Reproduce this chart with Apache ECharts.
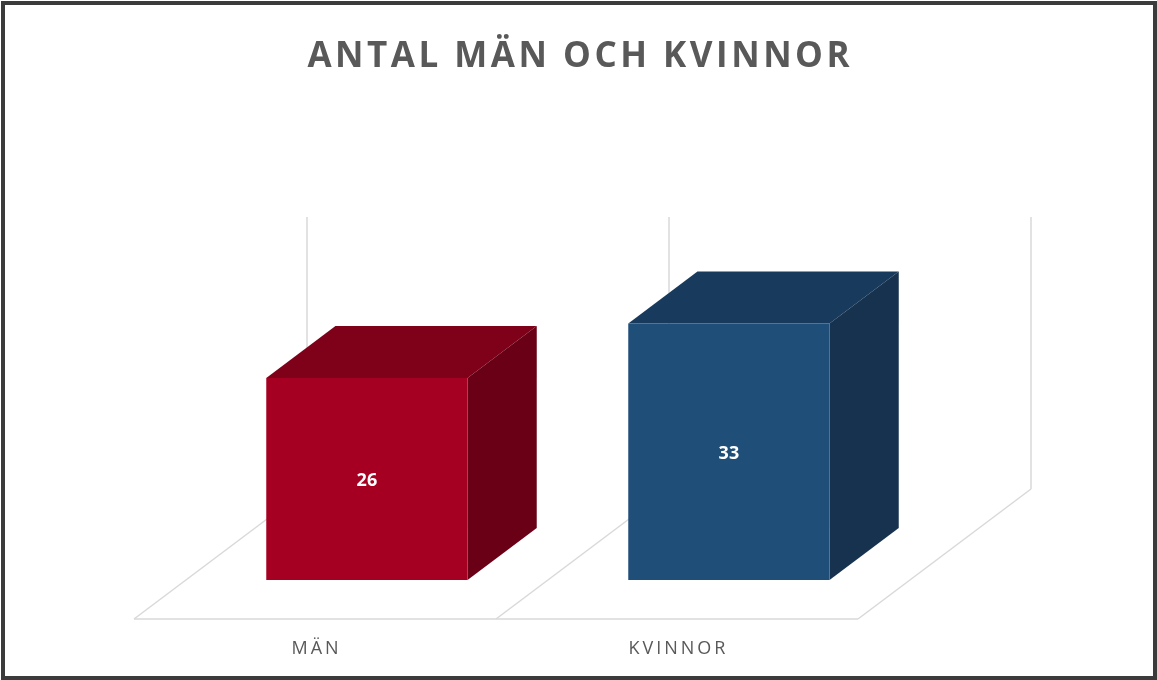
<!DOCTYPE html>
<html>
<head>
<meta charset="utf-8">
<script src="https://cdn.jsdelivr.net/npm/echarts@6/dist/echarts.min.js"></script>
<style>
  html, body { margin: 0; padding: 0; background: #fff; }
  #main { width: 1157px; height: 680px; }
</style>
</head>
<body>
<div id="main"></div>
<script>
// data
var categories = ['MÄN', 'KVINNOR'];
var values = [26, 33];
var yMax = 35;
var frontColors = ['#A50021', '#1F4E79'];
var topColors = ['#7F0019', '#183A5D'];
var sideColors = ['#6A0015', '#16324E'];

// oblique depth of the floor (full depth), bars sit between 0.3 and 0.7 of it
var DEPTH = [173, -130];
var BAR_FRONT = 0.3, BAR_BACK = 0.7;
var BAR_WIDTH = 0.556;
var gridColor = '#D9D9D9';

// spread letters a little (Excel-style character spacing)
function spaced(s, sp) {
    return s.split('').join(sp);
}

var chart = echarts.init(document.getElementById('main'));

var option = {
    backgroundColor: '#fff',
    animation: false,
    title: {
        text: spaced('ANTAL MÄN OCH KVINNOR', '\u200A'),
        left: 'center',
        top: 35,
        textStyle: {
            fontFamily: 'Open Sans',
            fontWeight: 'bold',
            fontSize: 35,
            color: '#595959'
        }
    },
    graphic: [{
        type: 'rect',
        shape: { x: 3, y: 3, width: 1152, height: 675 },
        style: { fill: 'none', stroke: '#3B3B3B', lineWidth: 4 },
        z: 100
    }],
    grid: {
        left: 134,
        right: 299,
        bottom: 61,
        height: 272
    },
    xAxis: {
        type: 'category',
        data: categories,
        axisLine: { show: false },
        axisTick: { show: false },
        splitLine: { show: false },
        axisLabel: {
            margin: 21,
            fontFamily: 'Open Sans',
            fontSize: 18,
            color: '#595959',
            formatter: function (v) { return spaced(v, '\u2009'); }
        }
    },
    yAxis: {
        type: 'value',
        min: 0,
        max: yMax,
        show: false
    },
    series: [{
        // floor and back wall
        type: 'custom',
        silent: true,
        data: categories.map(function (c, i) { return [i]; }),
        renderItem: function (params, api) {
            var i = api.value(0);
            var base = api.coord([i, 0]);
            var top = api.coord([i, yMax]);
            var w = api.size([1, 0])[0];
            var style = { stroke: gridColor, lineWidth: 1.5 };
            var edges = [base[0] - w / 2];
            if (i === categories.length - 1) edges.push(base[0] + w / 2);
            var children = [];
            edges.forEach(function (x) {
                children.push({
                    type: 'line',
                    shape: { x1: x, y1: base[1], x2: x + DEPTH[0], y2: base[1] + DEPTH[1] },
                    style: style
                });
                children.push({
                    type: 'line',
                    shape: { x1: x + DEPTH[0], y1: base[1] + DEPTH[1], x2: x + DEPTH[0], y2: top[1] + DEPTH[1] },
                    style: style
                });
            });
            children.push({
                type: 'line',
                shape: { x1: base[0] - w / 2, y1: base[1], x2: base[0] + w / 2, y2: base[1] },
                style: style
            });
            return { type: 'group', children: children };
        }
    }, {
        // 3d boxes
        type: 'custom',
        data: values.map(function (v, i) { return [i, v]; }),
        renderItem: function (params, api) {
            var i = api.value(0);
            var v = api.value(1);
            var base = api.coord([i, 0]);
            var top = api.coord([i, v]);
            var w = api.size([1, 0])[0] * BAR_WIDTH;
            var x0 = base[0] - w / 2 + DEPTH[0] * BAR_FRONT;
            var x1 = x0 + w;
            var yb = base[1] + DEPTH[1] * BAR_FRONT;
            var yt = top[1] + DEPTH[1] * BAR_FRONT;
            var dx = DEPTH[0] * (BAR_BACK - BAR_FRONT);
            var dy = DEPTH[1] * (BAR_BACK - BAR_FRONT);
            return {
                type: 'group',
                children: [{
                    type: 'polygon',
                    shape: { points: [[x0, yt], [x1, yt], [x1 + dx, yt + dy], [x0 + dx, yt + dy]] },
                    style: { fill: topColors[i] }
                }, {
                    type: 'polygon',
                    shape: { points: [[x1, yt], [x1 + dx, yt + dy], [x1 + dx, yb + dy], [x1, yb]] },
                    style: { fill: sideColors[i] }
                }, {
                    type: 'rect',
                    shape: { x: x0, y: yt, width: w, height: yb - yt },
                    style: { fill: frontColors[i] }
                }, {
                    type: 'text',
                    x: (x0 + x1) / 2,
                    y: (yt + yb) / 2 + 2,
                    style: {
                        text: String(v),
                        fill: '#fff',
                        fontFamily: 'Open Sans',
                        fontWeight: 'bold',
                        fontSize: 18,
                        align: 'center',
                        verticalAlign: 'middle'
                    }
                }]
            };
        }
    }]
};

chart.setOption(option);
</script>
</body>
</html>
